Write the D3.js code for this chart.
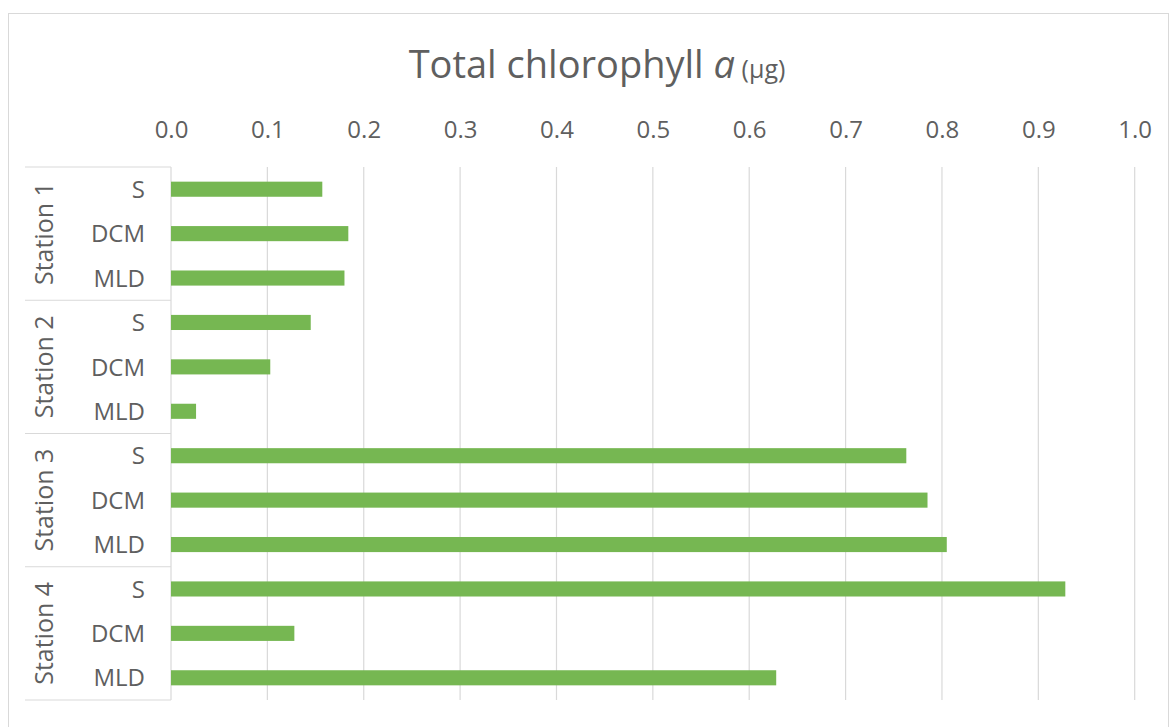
<!DOCTYPE html>
<html>
<head>
<meta charset="utf-8">
<script src="https://cdn.jsdelivr.net/npm/d3@7"></script>
<style>
  html, body { margin: 0; padding: 0; background: #ffffff; }
  svg { display: block; font-family: "Open Sans", sans-serif; }
</style>
</head>
<body>
<svg id="chart" width="1173" height="727"></svg>
<script>
const stations = ["Station 1", "Station 2", "Station 3", "Station 4"];
const depths = ["S", "DCM", "MLD"];
const station1 = [0.157, 0.184, 0.180];
const station2 = [0.145, 0.103, 0.026];
const station3 = [0.763, 0.785, 0.805];
const station4 = [0.928, 0.128, 0.628];
const xTicks = [0.0, 0.1, 0.2, 0.3, 0.4, 0.5, 0.6, 0.7, 0.8, 0.9, 1.0];

(function () {
const seriesByStation = [station1, station2, station3, station4];
const rows = [];
stations.forEach((st, i) => {
  depths.forEach((d, j) => {
    rows.push({ key: st + "|" + d, station: st, depth: d, value: seriesByStation[i][j] });
  });
});

const svg = d3.select("#chart");
const textColor = "#5f5f5f";
const gridColor = "#d9d9d9";
const barColor = "#76b752";

const pLeft = 171, pRight = 1134.7, pTop = 167, pBottom = 700;

// outer border
svg.append("rect")
  .attr("x", 8.5).attr("y", 13.5)
  .attr("width", 1160).attr("height", 730)
  .attr("fill", "none").attr("stroke", gridColor).attr("stroke-width", 1);

const x = d3.scaleLinear().domain([0, 1]).range([pLeft, pRight]);
const y = d3.scaleBand().domain(rows.map(r => r.key)).range([pTop, pBottom]).paddingInner(0.66).paddingOuter(0.33);
const yGroup = d3.scaleBand().domain(stations).range([pTop, pBottom]);

// gridlines
svg.append("g").selectAll("line").data(xTicks).join("line")
  .attr("x1", d => x(d)).attr("x2", d => x(d))
  .attr("y1", pTop).attr("y2", pBottom)
  .attr("stroke", gridColor).attr("stroke-width", 1.2);

// top axis labels
const axis = d3.axisTop(x).tickValues(xTicks).tickFormat(d3.format(".1f")).tickSize(0).tickPadding(0);
const axG = svg.append("g").attr("transform", `translate(0,138)`).call(axis);
axG.select(".domain").remove();
axG.selectAll("text")
  .attr("fill", textColor)
  .attr("font-size", 24)
  .attr("font-family", "'Open Sans', sans-serif")
  .attr("dy", 0);

// category box lines
const bounds = [pTop].concat(stations.map(s => yGroup(s) + yGroup.bandwidth()));
svg.append("g").selectAll("line").data(bounds).join("line")
  .attr("x1", 25).attr("x2", pLeft)
  .attr("y1", d => d).attr("y2", d => d)
  .attr("stroke", gridColor).attr("stroke-width", 1.2);

// bars
svg.append("g").selectAll("rect").data(rows).join("rect")
  .attr("x", x(0))
  .attr("y", d => y(d.key))
  .attr("width", d => x(d.value) - x(0))
  .attr("height", y.bandwidth())
  .attr("fill", barColor);

// depth labels
const yCenter = d3.scaleBand().domain(rows.map(r => r.key)).range([pTop, pBottom]);
svg.append("g").selectAll("text").data(rows).join("text")
  .attr("x", 145)
  .attr("y", d => yCenter(d.key) + yCenter.bandwidth() / 2)
  .attr("dy", "0.36em")
  .attr("text-anchor", "end")
  .attr("fill", textColor)
  .attr("font-size", 24)
  .text(d => d.depth);

// station labels
svg.append("g").selectAll("text").data(stations).join("text")
  .attr("transform", d => `translate(44,${yGroup(d) + yGroup.bandwidth() / 2}) rotate(-90)`)
  .attr("dy", "0.36em")
  .attr("text-anchor", "middle")
  .attr("fill", textColor)
  .attr("font-size", 25)
  .text(d => d);

// title
const title = svg.append("text")
  .attr("x", 597).attr("y", 78)
  .attr("text-anchor", "middle")
  .attr("fill", textColor);
title.append("tspan").attr("font-size", 38).text("Total chlorophyll ");
title.append("tspan").attr("font-size", 38).attr("font-style", "italic").text("a");
title.append("tspan").attr("font-size", 25).text(" (µg)");
})();
</script>
</body>
</html>
